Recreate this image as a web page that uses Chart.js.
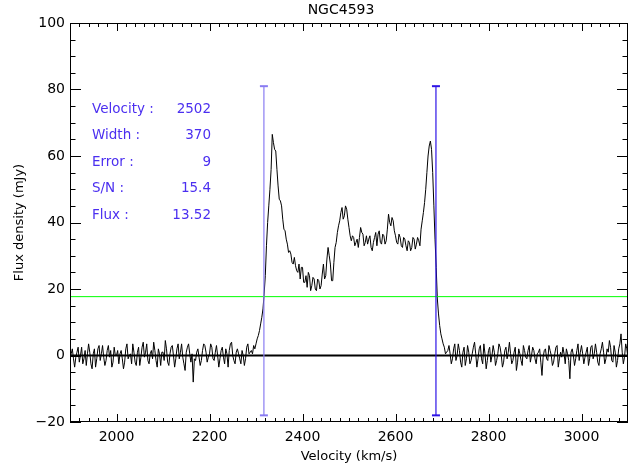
<!DOCTYPE html>
<html><head><meta charset="utf-8">
<script src="https://cdn.jsdelivr.net/npm/chart.js@4.4.1/dist/chart.umd.min.js"></script>
<style>html,body{margin:0;padding:0;background:#fff;overflow:hidden}#wrap{width:628px;height:469px;position:relative;overflow:hidden}</style>
</head><body><div id="wrap"><canvas id="c" width="634" height="469"></canvas></div>
<script>
const plotTitle = 'NGC4593';
const xTitle = 'Velocity (km/s)';
const yTitle = 'Flux density (mJy)';
const xRange = [1900, 3100];
const yRange = [-20, 100];
const xTicks = [2000, 2200, 2400, 2600, 2800, 3000];
const yTicks = [-20, 0, 20, 40, 60, 80, 100];
const xMinorStep = 20, yMinorStep = 5;
// spectrum channels: first channel velocity and channel width (km/s)
const channelStart = 1900, channelWidth = 2.5;
const baselineLeft = [
 -1.5, 0.5, 2.0, -1.0, -3.5, -0.5, 1.0, 2.5, -2.0, 0.0, 2.5, -2.5, -1.0, 1.5, -3.0, 0.5, 3.5, 1.0, -2.5, -4.0,
 0.5, 2.0, -3.5, -1.0, 2.0, 3.0, -1.5, 0.5, 3.0, -0.5, -3.0, -1.5, 1.5, 3.0, -0.5, 1.5, -3.5, -2.0, 2.5, 0.0,
 0.0, 1.5, -2.5, 0.5, 1.5, -1.0, -4.0, -2.0, 2.0, 3.5, -1.0, 0.0, 0.5, -2.5, 3.5, 1.0, -2.0, -3.0, 1.0, 2.5,
 -3.0, -0.5, 2.5, 4.0, -0.5, 1.0, 3.5, -1.5, -2.5, 0.5, 1.5, -1.0, 4.0, 1.5, -1.5, -3.5, 2.0, 0.5, -3.0, 1.0,
 1.0, -1.5, 4.5, 2.0, -2.0, -3.0, 0.5, 2.5, 3.0, 0.0, -3.5, -1.0, 2.0, 3.5, -1.0, 1.0, 3.5, -0.5, -2.5, -4.5,
 1.0, 2.5, 3.5, 0.5, -2.0, 0.5, -8.0, -1.0, -1.5, 1.0, 2.0, -0.5, -3.0, -1.5, 1.5, 3.5, 3.0, 1.0, -2.0, -0.5,
 0.5, 3.5, 2.5, -1.0, -1.5, 1.0, 3.0, 0.0, -3.5, -1.0, 1.5, 2.5, -0.5, -2.5, 2.0, 0.5, -3.5, 1.5, 3.5, 4.0,
 0.0, -1.5, -2.5, 1.0, 2.0, 0.5, -1.0, -2.5, 1.5, 0.0, -3.0, -1.0, 2.5, 3.5, 0.5, 1.0
];
const lineProfile = [
 1.5, 0.5, 3.0, 2.0, 3.5, 5.0, 6.0, 7.5, 9.5, 11.5, 14, 18.5, 24, 33, 40, 45, 50, 56, 66.5, 64,
 62, 61.5, 56, 51, 47, 46.5, 45, 41, 38, 37.5, 35, 33.5, 31, 31.5, 30.5, 28, 27.5, 29.5, 27, 25.5,
 25, 27.5, 23, 26.5, 26.5, 22, 22, 24, 20.5, 25, 24, 19.5, 21, 23.5, 23, 20, 19.5, 23, 22.5, 20,
 21, 24.5, 27.5, 23, 24, 29, 32.5, 30, 27.5, 22.5, 22.5, 28, 32.5, 34, 37, 39, 40.5, 43, 44.5, 41,
 42, 45, 44, 41, 38.5, 36, 34.5, 36, 35.5, 33, 34, 35, 32.5, 35.5, 38.5, 37, 36.5, 33, 34, 36,
 33.5, 35, 36, 32.5, 31.5, 34, 35.5, 37, 33, 36.5, 37.5, 34, 33.5, 36.5, 36, 33.5, 34.5, 38, 42.5, 40,
 39, 41.5, 40.5, 37.5, 36, 34, 33.5, 36.5, 35.5, 33, 32.5, 35.5, 35, 33, 31.5, 34.5, 34, 31.5, 32.5, 35.5,
 35, 32, 33.5, 35.5, 34.5, 33, 38, 40.5, 43, 46, 50, 55, 60, 63, 64.5, 62, 55, 45, 35, 26.5,
 17, 12.5, 9, 6.5, 5, 3.5, 2.5, 0.5, 1
];
const baselineRight = [
 1.5, 3.0, 0.5, -2.5, -1.0, 2.0, 3.5, -1.5, 0.0, 3.5, 1.5, -2.0, -3.5, 1.0, 2.5, -3.0, -1.0, 3.0, 1.0, -2.5,
 -1.5, 0.5, 2.5, 4.0, 0.5, -3.5, -1.0, 2.0, 3.0, -1.0, -2.5, 3.5, 0.5, -4.0, -1.5, 1.5, 2.5, -2.0, 0.0, 3.0,
 1.0, -3.0, -1.5, 0.5, 3.5, 2.5, 0.0, -3.5, -2.0, 1.5, 2.5, -1.0, 1.0, 4.0, 0.5, -2.5, -1.5, 1.0, 2.5, -4.5,
 -2.0, 2.0, 0.5, -1.5, -3.0, 3.0, 1.5, -0.5, -1.0, 1.5, 3.0, -2.0, 0.0, 2.5, 1.5, -1.0, -2.5, 0.5, 1.0, 2.0,
 -2.0, -6.0, -0.5, 1.5, 2.0, -1.0, -1.5, 3.0, 1.5, 0.0, -3.0, -2.0, 0.5, 2.5, 3.0, -3.5, -1.0, 1.0, -0.5, 2.5,
 0.5, -2.5, 2.0, 0.5, -1.5, -7.0, 1.0, 2.0, 0.0, -3.0, -1.0, 1.5, 3.5, -1.5, 1.0, 3.0, 0.5, -2.5, -0.5, 1.0,
 2.5, -3.0, -1.0, 2.5, 3.0, -1.0, 0.5, 3.5, 1.0, -2.0, -3.0, 0.5, 2.0, 4.0, 1.0, -2.5, -1.0, 2.0, 1.0, 4.5,
 2.5, -1.5, -2.0, 3.0, 1.0, -3.5, -1.5, 2.0, 3.5, 6.5, 1.0, -2.5, -0.5, 3.5, 2.0, -1.0
];
const flux = baselineLeft.concat(lineProfile, baselineRight);
const windowEdges = [2317, 2687];
const edgeBar = [-18, 81];
const threshold = 17.7;
const zeroLevel = 0;
const statLabels = ['Velocity :', 'Width :', 'Error :', 'S/N :', 'Flux :'];
const statValues = ['2502', '370', '9', '15.4', '13.52'];

const FONT = 'DejaVu Sans';
const BLUE_TXT = '#4b2ff0';
const spectrum = flux.map((f, i) => ({x: channelStart + i * channelWidth, y: f}));

const decor = {
  id: 'decor',
  afterDatasetsDraw(chart) {
    const {ctx, chartArea: a, scales: {x, y}} = chart;
    ctx.save();
    ctx.strokeStyle = '#000'; ctx.lineWidth = 1;
    ctx.beginPath();
    ctx.rect(a.left + 0.5, a.top + 0.5, a.right - a.left - 1, a.bottom - a.top - 1);
    ctx.stroke();
    ctx.beginPath();
    for (let v = xRange[0]; v <= xRange[1]; v += xMinorStep) {
      const px = Math.min(Math.round(x.getPixelForValue(v)) + 0.5, a.right - 0.5);
      const len = xTicks.includes(v) ? 8 : 4;
      ctx.moveTo(px, a.bottom); ctx.lineTo(px, a.bottom - len);
      ctx.moveTo(px, a.top); ctx.lineTo(px, a.top + len);
    }
    for (let v = yRange[0]; v <= yRange[1]; v += yMinorStep) {
      const py = Math.round(y.getPixelForValue(v)) + 0.5;
      const len = yTicks.includes(v) ? 11 : 5.5;
      ctx.moveTo(a.left, py); ctx.lineTo(a.left + len, py);
      ctx.moveTo(a.right, py); ctx.lineTo(a.right - len, py);
    }
    ctx.stroke();
    // title
    ctx.fillStyle = '#000';
    ctx.font = '14px "' + FONT + '"';
    ctx.textAlign = 'center'; ctx.textBaseline = 'middle';
    ctx.fillText(plotTitle, (a.left + a.right) / 2 - 8, 10);
    // stats panel
    ctx.fillStyle = BLUE_TXT;
    ctx.font = '13.5px "' + FONT + '"';
    statLabels.forEach((lab, i) => {
      const py = 109 + i * 26.5;
      ctx.textAlign = 'left';
      ctx.fillText(lab, 92, py);
      ctx.textAlign = 'right';
      ctx.fillText(statValues[i], 211, py);
    });
    ctx.restore();
  }
};

const edgeColors = ['#8a7cf2', '#2e14e6'];
const edgeSets = windowEdges.map((v, i) => ({
  data: [{x: v, y: edgeBar[0]}, {x: v, y: edgeBar[1]}],
  borderColor: edgeColors[i], borderWidth: 1.2,
  pointStyle: 'line', pointRadius: 4, pointBorderWidth: 2,
  pointBorderColor: edgeColors[i], pointBackgroundColor: edgeColors[i],
  order: 0
}));

const fmt = v => (v < 0 ? '\u2212' + Math.abs(v) : String(v));

new Chart(document.getElementById('c'), {
  type: 'line',
  data: {
    datasets: [
      ...edgeSets,
      {data: [{x: xRange[0], y: zeroLevel}, {x: xRange[1], y: zeroLevel}], borderColor: '#000', borderWidth: 2, pointRadius: 0, order: 1},
      {data: [{x: xRange[0], y: threshold}, {x: xRange[1], y: threshold}], borderColor: '#00ff00', borderWidth: 1, pointRadius: 0, order: 1},
      {data: spectrum, borderColor: '#000', borderWidth: 1, pointRadius: 0, tension: 0, order: 2}
    ]
  },
  options: {
    responsive: false, animation: false, devicePixelRatio: 1,
    layout: {padding: {top: 23, right: 0, left: 0, bottom: 0}},
    plugins: {legend: {display: false}, tooltip: {enabled: false}, title: {display: false}},
    scales: {
      x: {
        type: 'linear', min: xRange[0], max: xRange[1],
        afterBuildTicks(s) { s.ticks = xTicks.map(v => ({value: v})); },
        afterFit(s) { s.height = 47; s.paddingLeft = 0; s.paddingRight = 0; },
        grid: {display: false, drawTicks: false},
        border: {display: false},
        ticks: {autoSkip: false, maxRotation: 0, color: '#000', callback: fmt,
          font: {family: FONT, size: 14}, padding: 7},
        title: {display: true, text: xTitle, color: '#000', font: {family: FONT, size: 13}, padding: {top: 0, bottom: 5}}
      },
      y: {
        type: 'linear', min: yRange[0], max: yRange[1],
        afterBuildTicks(s) { s.ticks = yTicks.map(v => ({value: v})); },
        afterFit(s) { s.width = 70; },
        grid: {display: false, drawTicks: false},
        border: {display: false},
        ticks: {autoSkip: false, color: '#000', callback: fmt, font: {family: FONT, size: 14}, padding: 5},
        title: {display: true, text: yTitle, color: '#000', font: {family: FONT, size: 13}, padding: {top: 12, bottom: 0}}
      }
    }
  },
  plugins: [decor]
});
</script>
</body></html>
